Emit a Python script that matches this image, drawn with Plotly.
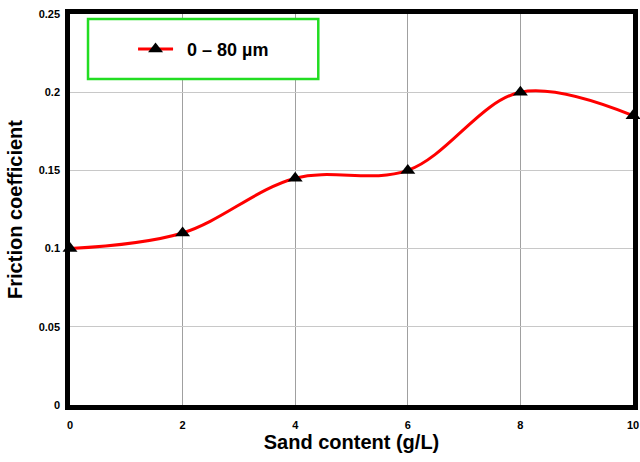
import plotly.graph_objects as go

sand = [0, 2, 4, 6, 8, 10]
friction = [0.1, 0.11, 0.145, 0.15, 0.2, 0.185]
series_name = "\u20020 – 80 µm"
x_ticks = [0, 2, 4, 6, 8, 10]
y_ticks = [0, 0.05, 0.1, 0.15, 0.2, 0.25]
y_tick_text = ["0", "0.05", "0.1", "0.15", "0.2", "0.25"]

fig = go.Figure()
fig.add_trace(go.Scatter(
    x=sand, y=friction, name=series_name, mode="lines+markers",
    line=dict(color="#ff0000", width=3, shape="spline", smoothing=1.0),
    marker=dict(symbol="triangle-up", size=13, color="black"),
    cliponaxis=False,
))

fig.add_shape(type="rect", xref="paper", yref="paper",
              x0=0.032, x1=0.441, y0=0.834, y1=0.987,
              line=dict(color="#22dd22", width=2.5), fillcolor="white", layer="above")

fig.update_layout(
    width=640, height=462,
    margin=dict(l=70, r=7, t=14, b=57, autoexpand=False),
    paper_bgcolor="white", plot_bgcolor="white",
    font=dict(family="Liberation Sans, Arial, sans-serif", color="black"),
    showlegend=True,
    legend=dict(x=0.112, y=0.91, xanchor="left", yanchor="middle",
                bgcolor="rgba(0,0,0,0)", borderwidth=0,
                font=dict(size=18, family="Liberation Sans, Arial", weight="bold"),
                itemwidth=35),
    xaxis=dict(range=[0, 10], tickvals=x_ticks, showgrid=True, gridcolor="#a0a0a0",
               gridwidth=1, showline=True, linecolor="black", linewidth=4.5, mirror=True,
               zeroline=False, ticks="", ticklen=0, automargin=False,
               ticklabelstandoff=6, ticklabeloverflow="allow",
               tickfont=dict(size=11, weight="bold"),
               title=dict(text="<b>Sand content (g/L)</b>", font=dict(size=20), standoff=6)),
    yaxis=dict(range=[0, 0.25], tickvals=y_ticks, ticktext=y_tick_text, showgrid=True,
               gridcolor="#c8c8c8", gridwidth=1, showline=True, linecolor="black",
               linewidth=4.5, mirror=True, zeroline=False, ticks="", automargin=False,
               ticklabelstandoff=3, ticklabeloverflow="allow",
               tickfont=dict(size=11, weight="bold"),
               title=dict(text="<b>Friction coefficient</b>", font=dict(size=20), standoff=12)),
)

fig.write_html("out.html", config={"displayModeBar": False},
               post_script="document.body.style.margin='0';")
